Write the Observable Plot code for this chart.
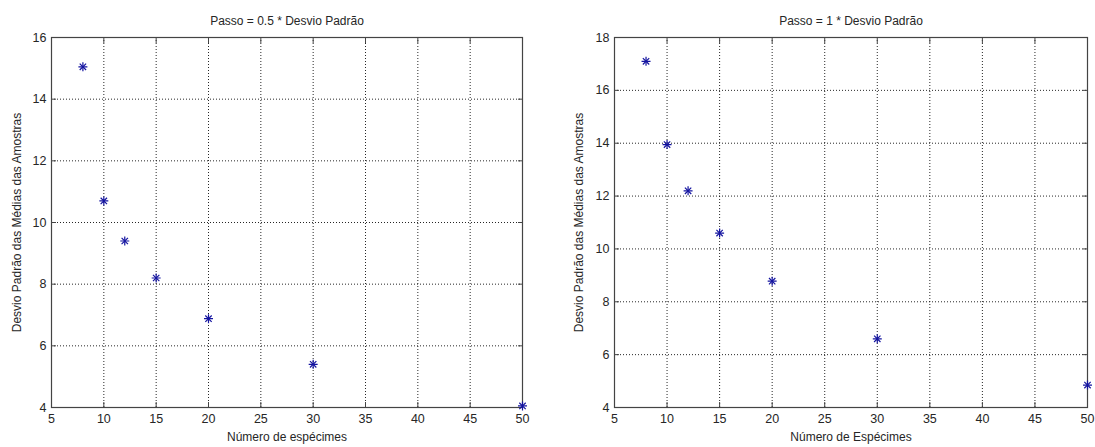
<!DOCTYPE html>
<html>
<head>
<meta charset="utf-8">
<script src="https://cdn.jsdelivr.net/npm/d3@7"></script>
<script src="https://cdn.jsdelivr.net/npm/@observablehq/plot@0.6"></script>
<style>
  body { margin: 0; background: #fff; }
  #fig { position: relative; width: 1095px; height: 447px; overflow: hidden; background: #fff; }
  #fig svg { position: absolute; top: 0; overflow: visible; }
</style>
</head>
<body>
<div id="fig"></div>
<script>
// Number of specimens sampled
const especimes = [8, 10, 12, 15, 20, 30, 50];
// Standard deviation of the sample means, step = 0.5 * std
const desvioPasso05 = [15.05, 10.7, 9.4, 8.2, 6.88, 5.4, 4.05];
// Standard deviation of the sample means, step = 1 * std
const desvioPasso1 = [17.1, 13.95, 12.2, 10.6, 8.78, 6.6, 4.85];

const xTicks = [5, 10, 15, 20, 25, 30, 35, 40, 45, 50];
const yTicksPasso05 = [4, 6, 8, 10, 12, 14, 16];
const yTicksPasso1 = [4, 6, 8, 10, 12, 14, 16, 18];

const titulos = ["Passo = 0.5 * Desvio Padrão", "Passo = 1 * Desvio Padrão"];
const rotulosX = ["Número de espécimes", "Número de Espécimes"];
const rotuloY = "Desvio Padrão das Médias das Amostras";

const FONT = "'Liberation Sans', Arial, Helvetica, sans-serif";
const INK = "#262626";
const BOX = "#444";
const MARKER = "#1414a0";

function painel({valores, yTicks, titulo, rotuloX, width, marginLeft, marginRight, yLabelDx}) {
  const pontos = especimes.map((x, i) => ({x, y: valores[i]}));
  return Plot.plot({
    width,
    height: 447,
    marginTop: 37,
    marginBottom: 40,
    marginLeft,
    marginRight,
    style: {fontFamily: FONT, fontSize: "12px", color: INK, background: "transparent", overflow: "visible"},
    x: {domain: [5, 50]},
    y: {domain: [yTicks[0], yTicks[yTicks.length - 1]]},
    marks: [
      // dotted grid
      Plot.gridX(xTicks, {stroke: "#000", strokeOpacity: 0.85, strokeDasharray: "1,2"}),
      Plot.gridY(yTicks, {stroke: "#000", strokeOpacity: 0.85, strokeDasharray: "1,2"}),
      // inward ticks on all four sides
      Plot.axisX(xTicks, {anchor: "bottom", tickSize: -5, text: null, label: null, stroke: BOX}),
      Plot.axisX(xTicks, {anchor: "top", tickSize: -5, text: null, label: null, stroke: BOX}),
      Plot.axisY(yTicks, {anchor: "left", tickSize: -5, text: null, label: null, stroke: BOX}),
      Plot.axisY(yTicks, {anchor: "right", tickSize: -5, text: null, label: null, stroke: BOX}),
      // tick labels
      Plot.axisX(xTicks, {anchor: "bottom", tickSize: 0, tickPadding: 7, label: null, tickFormat: d => d, fill: INK, fontSize: 12.5}),
      Plot.axisY(yTicks, {anchor: "left", tickSize: 0, tickPadding: 5, label: null, tickFormat: d => d, fill: INK, fontSize: 12.5}),
      Plot.frame({stroke: BOX, strokeWidth: 1.2}),
      // asterisk markers: plus + times
      Plot.dot(pontos, {x: "x", y: "y", symbol: "plus", r: 3, stroke: MARKER, strokeWidth: 1.2}),
      Plot.dot(pontos, {x: "x", y: "y", symbol: "times", r: 3, stroke: MARKER, strokeWidth: 1.2}),
      // title and axis labels
      Plot.text([titulo], {text: d => d, frameAnchor: "top", dy: -16, textAnchor: "middle", lineAnchor: "middle", fill: INK, fontSize: 12}),
      Plot.text([rotuloX], {text: d => d, frameAnchor: "bottom", dy: 30, textAnchor: "middle", lineAnchor: "middle", fill: INK, fontSize: 12}),
      Plot.text([rotuloY], {text: d => d, frameAnchor: "left", dx: yLabelDx, rotate: -90, textAnchor: "middle", lineAnchor: "middle", fill: INK, fontSize: 12})
    ]
  });
}

const fig = document.getElementById("fig");

const esquerda = painel({
  valores: desvioPasso05, yTicks: yTicksPasso05, titulo: titulos[0], rotuloX: rotulosX[0],
  width: 545, marginLeft: 51, marginRight: 23, yLabelDx: -34
});
esquerda.style.left = "0px";
fig.appendChild(esquerda);

const direita = painel({
  valores: desvioPasso1, yTicks: yTicksPasso1, titulo: titulos[1], rotuloX: rotulosX[1],
  width: 550, marginLeft: 69, marginRight: 8, yLabelDx: -35
});
direita.style.left = "545px";
fig.appendChild(direita);
</script>
</body>
</html>
